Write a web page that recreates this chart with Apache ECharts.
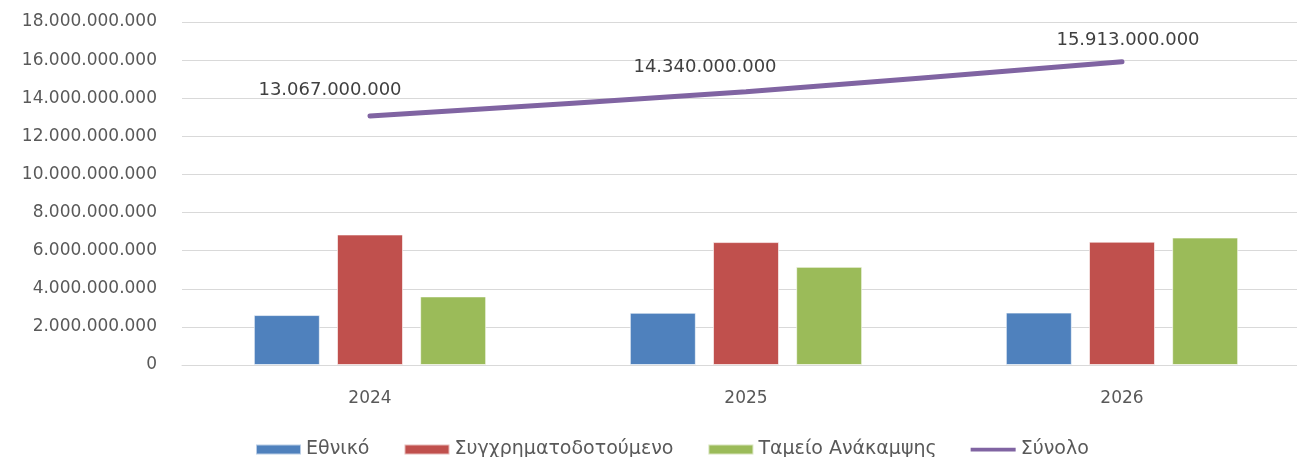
<!DOCTYPE html>
<html><head><meta charset="utf-8">
<script src="https://cdn.jsdelivr.net/npm/echarts@6/dist/echarts.min.js"></script>
<style>html,body{margin:0;padding:0;background:#fff;overflow:hidden}#c{width:1320px;height:457px}</style>
</head><body><div id="c"></div>
<script>
const categories = ['2024', '2025', '2026'];
const ethniko = [2620000000, 2740000000, 2750000000];
const sygchr = [6850000000, 6450000000, 6470000000];
const tameio = [3600000000, 5150000000, 6690000000];
const synolo = [13067000000, 14340000000, 15913000000];
const seriesNames = ['Εθνικό', 'Συγχρηματοδοτούμενο', 'Ταμείο Ανάκαμψης', 'Σύνολο'];

const fmt = v => String(Math.round(v)).replace(/\B(?=(\d{3})+(?!\d))/g, '.');
const font = 'DejaVu Sans';
const txt = '#595959';
const lblOffsets = [[-40, -6], [-41, -5], [6, -2]];
const lineIcon = 'path://M0,0 L0.01,0 M0,3 L48,3 L48,7 L0,7 Z M47.99,10 L48,10';

const chart = echarts.init(document.getElementById('c'), null, {renderer: 'canvas'});
const barCommon = {type: 'bar', barWidth: 66, barGap: '26%'};
chart.setOption({
  animation: false,
  grid: {left: 182, top: 22, width: 1128, height: 343},
  legend: {
    left: 250, top: 435, itemWidth: 45, itemHeight: 10, itemGap: 34,
    textStyle: {fontFamily: font, fontSize: 19, color: txt},
    data: seriesNames.map((n, i) => i < 3 ? {name: n, icon: 'rect'} : {name: n, icon: lineIcon, itemStyle: {color: '#8064A2', opacity: 1}})
  },
  xAxis: {
    type: 'category', data: categories,
    axisLine: {lineStyle: {color: '#d9d9d9', width: 1}},
    axisTick: {show: false},
    axisLabel: {fontFamily: font, fontSize: 17, color: txt, margin: 25}
  },
  yAxis: {
    type: 'value', min: 0, max: 18000000000, interval: 2000000000,
    axisLine: {show: false}, axisTick: {show: false},
    splitLine: {lineStyle: {color: '#d9d9d9', width: 1}},
    axisLabel: {fontFamily: font, fontSize: 17, color: txt, margin: 25, formatter: fmt}
  },
  series: [
    Object.assign({name: seriesNames[0], data: ethniko, itemStyle: {color: '#4F81BD', borderColor: 'rgba(255,255,255,0.6)', borderWidth: 1}}, barCommon),
    Object.assign({name: seriesNames[1], data: sygchr, itemStyle: {color: '#C0504D', borderColor: 'rgba(255,255,255,0.6)', borderWidth: 1}}, barCommon),
    Object.assign({name: seriesNames[2], data: tameio, itemStyle: {color: '#9BBB59', borderColor: 'rgba(255,255,255,0.6)', borderWidth: 1}}, barCommon),
    {
      name: seriesNames[3], type: 'line', data: synolo.map((v, i) => ({
        value: v, label: {offset: lblOffsets[i]}
      })),
      smooth: 0.25, symbol: 'circle', symbolSize: 1, showSymbol: true,
      lineStyle: {color: '#8064A2', width: 5, cap: 'round'},
      itemStyle: {color: 'rgba(128,100,162,0)'},
      label: {show: true, position: 'top', distance: 10, fontFamily: font, fontSize: 18, color: '#404040', opacity: 1, formatter: p => fmt(p.value)}
    }
  ]
});
</script></body></html>
